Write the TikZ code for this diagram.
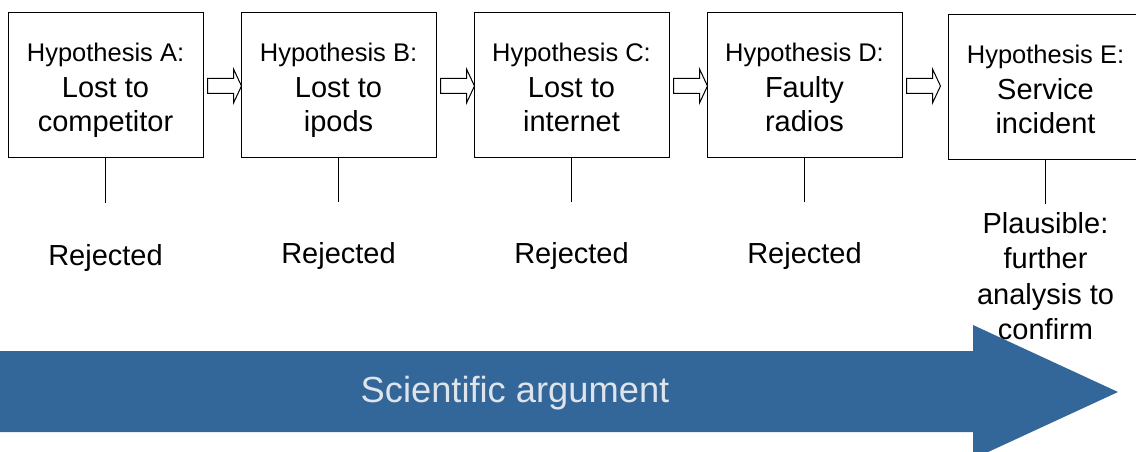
\documentclass[tikz,border=0pt]{standalone}
\usepackage{fontspec}
\setmainfont{Liberation Sans}
\usetikzlibrary{calc}
\definecolor{argblue}{RGB}{51,102,153}
\definecolor{argtext}{RGB}{222,228,235}
\tikzset{
  hyp/.style={draw=black, line width=1pt, fill=white, minimum width=195pt, minimum height=144pt, inner sep=0pt},
  htext/.style={align=center, inner sep=0pt, font=\fontsize{29}{34}\selectfont},
  res/.style={align=center, font=\fontsize{29}{35.5}\selectfont, inner sep=0pt},
  stem/.style={draw=black, line width=1pt},
  blk/.style={draw=black, line width=1pt, fill=white, line join=miter},
}
\newcommand{\hl}[1]{{\fontsize{25.5}{34}\selectfont #1}}
\newcommand{\blockarrow}[1]{\draw[blk] ($(#1.east)+(4,1)$) ++(0,-7.5) -- ++(26,0) -- ++(0,-9.5) -- ++(8,17) -- ++(-8,17) -- ++(0,-9.5) -- ++(-26,0) -- cycle;}
\begin{document}
\begin{tikzpicture}[x=1pt,y=-1pt]
\useasboundingbox (0,0) rectangle (1136,452);
\clip (0,0) rectangle (1136,452);
% big arrow
\fill[argblue] (0,351) -- (973,351) -- (973,325) -- (1118,392) -- (973,459) -- (973,432) -- (0,432) -- cycle;
\node[font=\fontsize{36.3}{40}\selectfont, text=argtext] (sci) at (515,393) {Scientific argument};
% boxes
\node[hyp] (A) at (105.5,85) {};
\node[hyp] (B) at (338.5,85) {};
\node[hyp] (C) at (571.5,85) {};
\node[hyp] (D) at (804.5,85) {};
\node[hyp] (E) at (1045.5,87) {};
\node[htext] (ta) at ($(A)+(0,5)$) {\hl{Hypothesis A:}\\[2pt]Lost to\\competitor\vphantom{p}};
\node[htext] (tb) at ($(B)+(0,5)$) {\hl{Hypothesis B:}\\[2pt]Lost to\\ipods\vphantom{p}};
\node[htext] (tc) at ($(C)+(0,5)$) {\hl{Hypothesis C:}\\[2pt]Lost to\\internet\vphantom{p}};
\node[htext] (td) at ($(D)+(0,5)$) {\hl{Hypothesis D:}\\[2pt]Faulty\\radios\vphantom{p}};
\node[htext] (te) at ($(E)+(0,5)$) {\hl{Hypothesis E:}\\[2pt]Service\\incident\vphantom{p}};
% block arrows
\blockarrow{A}
\blockarrow{B}
\blockarrow{C}
\blockarrow{D}
% stems and results
\coordinate (ae) at (105.5,203);
\coordinate (be) at (338.5,202);
\coordinate (ce) at (571.5,202);
\coordinate (de) at (804.5,202);
\coordinate (ee) at (1045.5,204);
\draw[stem] (A.south) -- (ae);
\draw[stem] (B.south) -- (be);
\draw[stem] (C.south) -- (ce);
\draw[stem] (D.south) -- (de);
\draw[stem] (E.south) -- (ee);
\node[res] (ra) at (105.5,258) {Rejected};
\node[res] (rb) at (338.5,256) {Rejected};
\node[res] (rc) at (571.5,256) {Rejected};
\node[res] (rd) at (804.5,256) {Rejected};
\node[res] (re) at (1045.5,276) {Plausible:\\further\\analysis to\\confirm};
\end{tikzpicture}
\end{document}
